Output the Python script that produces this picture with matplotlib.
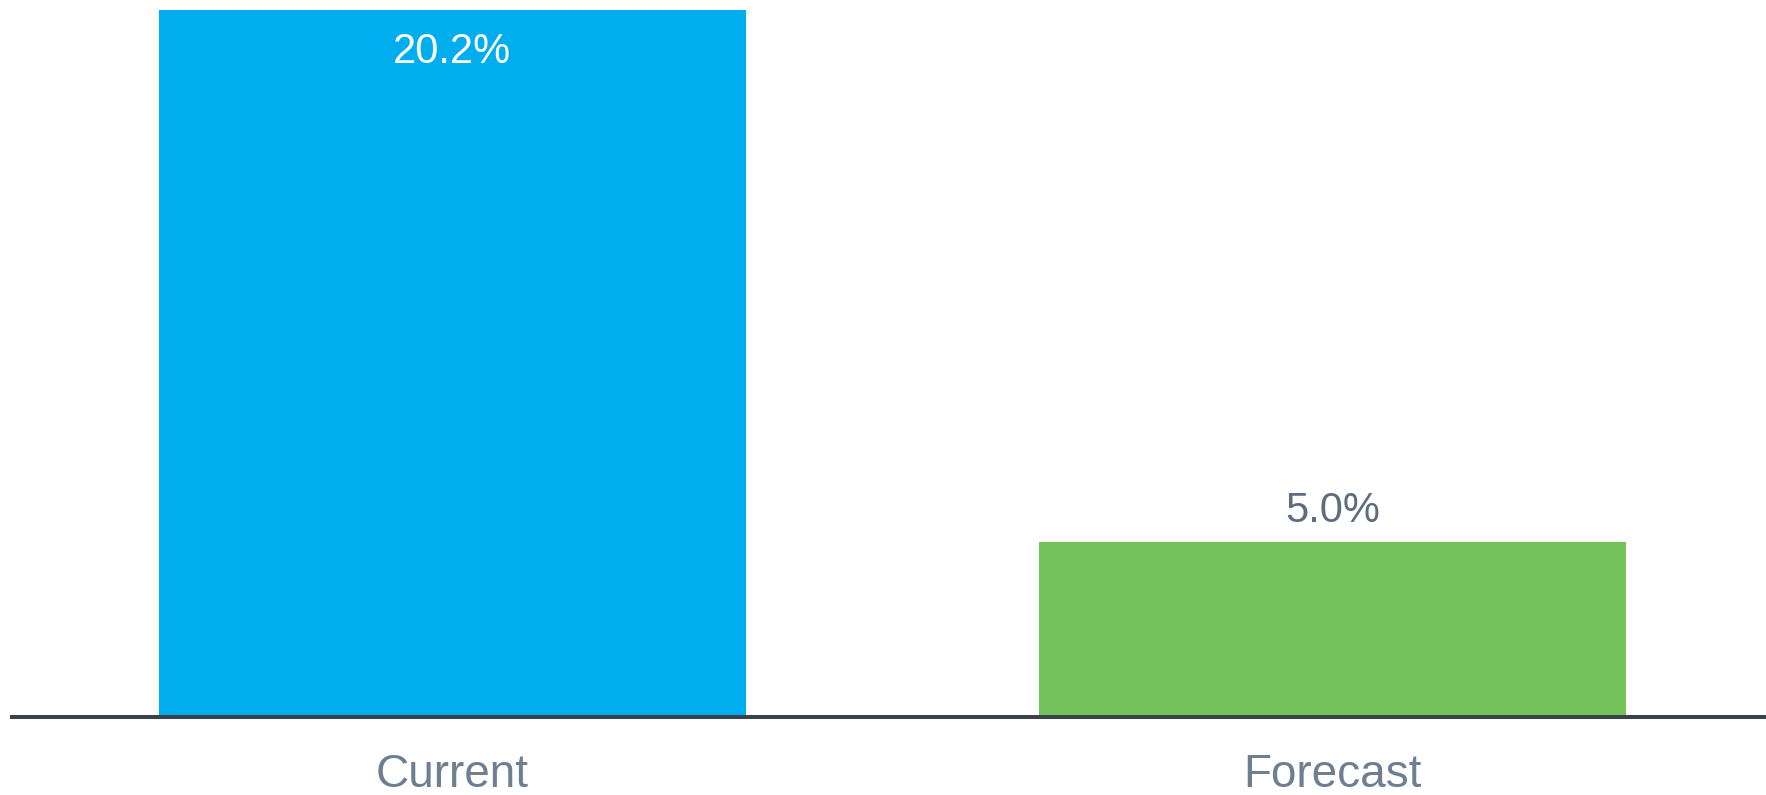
import numpy as np
import matplotlib
matplotlib.use("Agg")
import matplotlib.pyplot as plt

plt.rcParams['font.family'] = ['Liberation Sans', 'DejaVu Sans']

categories = ['Current', 'Forecast']
values = [20.2, 5.0]
value_labels = ['20.2%', '5.0%']
bar_colors = ['#00AEEF', '#74C35A']

W, H, DPI = 1766, 795, 100
fig = plt.figure(figsize=(W / DPI, H / DPI), dpi=DPI)
ax = fig.add_axes([12 / W, 78 / H, 1 - 12 / W, 1 - 78 / H])

x = np.arange(len(categories))
bars = ax.bar(x, values, width=0.667, color=bar_colors, zorder=1)

ax.set_xlim(-0.5, 1.4926)
ax.set_ylim(0, 717 / 35.0)

for s in ['top', 'right', 'left']:
    ax.spines[s].set_visible(False)
ax.spines['bottom'].set_color('#3a414a')
ax.spines['bottom'].set_linewidth(2.9)
ax.spines['bottom'].set_zorder(3)
ax.set_yticks([])
ax.set_xticks([])

# value labels: first inside the bar (white), second above
ax.annotate(value_labels[0], (x[0], values[0]), xytext=(0, -38.5),
            textcoords='offset points', ha='center', va='baseline',
            fontsize=30, color='white')
ax.annotate(value_labels[1], (x[1], values[1]), xytext=(0, 14.4),
            textcoords='offset points', ha='center', va='baseline',
            fontsize=30, color='#5d6d7e')

# category labels below axis
for xi, cat in zip(x, categories):
    ax.annotate(cat, (xi, 0), xycoords=('data', 'axes fraction'),
                xytext=(0, -50.4), textcoords='offset points',
                ha='center', va='baseline', fontsize=33, color='#6e7f92',
                annotation_clip=False)

fig.savefig('out.png', dpi=DPI)
